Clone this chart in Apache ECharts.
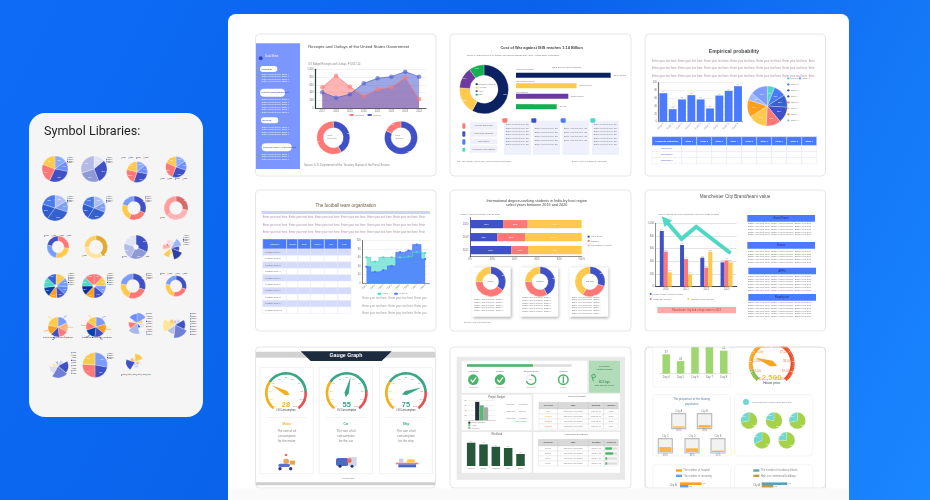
<!DOCTYPE html>
<html><head><meta charset="utf-8">
<style>html,body{margin:0;padding:0;background:#0f6ef5}#c{width:930px;height:500px;filter:blur(.55px)}</style>
<script src="https://cdn.jsdelivr.net/npm/echarts@6/dist/echarts.min.js"></script>
</head><body><div id="c"></div>
<script>
/* ---------- DATA ---------- */
const lib01=[15,13,29,24,19], lib02=[14,30,26,30], lib03=[14,14,27,24,21], lib04=[16,14,26,26,18];
const lib05=[16,14,30,20,20], lib06=[17,14,28,22,19], lib07=[32,25,23,20], lib08=[28,36,36];
const lib09=[27,26,25,22], lib10=[40,35,25], lib11=[32,26,22,20], lib12=[12,18,14,20,10,16,12,14,10,14];
const lib13=[14,12,11,12,11,13,14,13], lib14=[12,13,11,14,12,13,12,13], lib15=[30,26,22,22], lib16=[30,24,24,22];
const lib17=[18,15,15,14,16,22], lib18=[20,16,16,18,14,16], lib19=[24,14,18,12,26,20,12,22], lib20=[10,14,22,28,20,26,14,10];
const lib21=[8,16,26,30,22,14,10,12], lib22=[28,22,26,24], lib23=[22,12,10,16,8,24,14,10];

const receiptYears=['2017','2018','2019','2020','2021','2022','2023','2024'];
const receipts=[538,837,555,316,487,538,786,239];
const outlays=[410,273,359,641,769,812,940,812];
const donutReceipts=[42,58], donutOutlays=[82,18];

const warShare=[58,18,14,10];
const warLabels=['Operation Inherent','Air Force','Army','Navy'];
const warBarNames=['Overall spending','Overseas support','Operations','Other operations'];
const warBars=[114,73,63,49];
const warBarText=['$1.14 billion','$734 million','$632 million','$490m'];

const probLabels=['Stage 1','Stage 2','Stage 3','Stage 4','Stage 5','Stage 6','Stage 7','Stage 8','Stage 9'];
const probValues=[73,32,57,68,57,34,67,79,91];
const probShare=[6,10,10,13,12,15,14,6,14];
const probTableHead=['Probability Distribution','Stage 1','Stage 2','Stage 3','Stage 4','Stage 5','Stage 6','Stage 7','Stage 8','Stage 9'];
const probTableRows=['Population 1','Population 2','Population 3'];

const teamHead=['Category','Lands','Sold','Team','Win','Goal'];
const teamRows=['Football Club 1','Football Club 2','Football Club 3','Football Club 4','Football Club 5','Football Club 6','Football Club 7','Football Club 8','Football Club 9','Football Club 10'];
const teamX=['Club 1','Club 2','Club 3','Club 4','Club 5','Club 6','Club 7','Club 8'];
const teamA=[60,50,60,60,60,62,72,70];
const teamB=[38,26,30,40,72,76,90,56];

const studyYears=['2015','2018','2020'];
const studyNew=[37,24.5,29.6], studyPrivate=[15,25,22], studyPublic=[48,50.5,48.4];
const studyLegend=['New Delhi','Punjab','Karnataka / Kerala'];
const studyD1=[35,40,25], studyD2=[42,33,25], studyD3=[30,28,42];
const studyTotals=['3,804','31,569','52,069'];

const cityYears=['2020','2021','2022','2023'];
const cityBlue=[879,658,458,384], citySalmon=[553,437,300,416], cityYellow=[226,195,553,384];
const cityArrow=[[11.5,89],[32,47],[50,74],[92.6,15]];
const cityHeads=['Brand Power','Forces','APPG','Royalty rate'];

const gaugeNames=['Motor','Car','Ship'], gaugeVals=[28,55,75];

const budgetX=['Budget'], budgetA=[74], budgetB=[60], budgetC=[52];
const workNames=['Sprung','Danny','Nicholas','Peter','Simon'], workVals=[97,90,80,75,50];
const progressVal=[63];
const progressDev=[70,30], progressDone=[100];
const taskHead=['Overview','Task','Duration','Assignee'];
const deadlineHead=['Overview','Task','Duration','Progress'];
const taskPriority=['Today','Medium','Medium','Medium'];
const deadlineProgress=[55,65,15,15];

const dayX=['Day 4','Day 5','Day 6','Day 7','Day 8'], dayVals=[37,24,65,70,44];
const houseValue=[2500];
const floatCities=['City A','City B','City C','City D','City E'], floatVals=[10,20,40,30,11];
const incomePies=[[72,28],[78,22],[72,28],[68,32],[75,25]];
const hospital=[65], university=[25], ministry=[77], commercial=[35];

/* ---------- HELPERS ---------- */
const F='Liberation Sans';
const BLUE='#3f51c4',SAL='#ff7875',YEL='#ffc94d',LB='#7b9cff',TEAL='#4fd8c4',VIV='#4a7bff',ORG='#ff9f1c';
const g=[],series=[],grids=[],xA=[],yA=[];
let ox=0,oy=0;const at=(a,b)=>{ox=a;oy=b};
const X=z=>ox+z/3,Y=z=>oy+z/3;
function rect(x,y,w,h,fill,o={}){g.push({type:'rect',silent:true,z:o.z||0,shape:{x,y,width:w,height:h,r:o.r||0},
 style:{fill:fill||'transparent',stroke:o.stroke||'transparent',lineWidth:o.lw||0,shadowBlur:o.sb||0,shadowColor:o.sc||'transparent',shadowOffsetX:o.sx||0,shadowOffsetY:o.sy||0}})}
function text(x,y,s,size,color,align,weight,z){g.push({type:'text',silent:true,z:z||1,style:{text:s,x,y,fontSize:size,fontFamily:F,fontWeight:weight||'normal',fill:color||'#444',
 align:align||'left',textAlign:align||'left',verticalAlign:'middle',textVerticalAlign:'middle'}})}
const zr=(a,b,c,d,fill,o)=>rect(X(a),Y(b),(c-a)/3,(d-b)/3,fill,o);
const zt=(a,b,s,size,color,align,weight,z)=>text(X(a),Y(b),s,size,color,align,weight,z);
function zc(a,b,r,fill,z){g.push({type:'circle',silent:true,z:z||1,shape:{cx:X(a),cy:Y(b),r:r/3},style:{fill}})}
function zline(pts,color,w,z){g.push({type:'polyline',silent:true,z:z||1,shape:{points:pts.map(p=>[X(p[0]),Y(p[1])])},style:{stroke:color,lineWidth:w,fill:'transparent'}})}
const FILL='Enter your text here  Enter your text here  Enter your text here  Enter your text here  Enter your text here  Enter your text here  Enter your text here  ';
const filler=n=>FILL.slice(0,n);
function para(a,ys,n,size,color){ys.forEach(y=>zt(a,y,filler(n),size,color))}
function card(a,b,w,h){rect(a,b,w,h,'#fff',{r:4,stroke:'#dfdfdf',lw:.8})}
function pie(cx,cy,rin,rout,vals,colors,o={}){series.push({type:'pie',silent:true,animation:false,center:[cx,cy],radius:[rin,rout],startAngle:o.start==null?90:o.start,
 roseType:o.rose||false,clockwise:true,z:o.z||2,
 itemStyle:{borderColor:o.bc||'#fff',borderWidth:o.bw==null?.25:o.bw},
 label:o.label||{show:!!o.inner,position:'inside',fontSize:o.inner||2.4,color:'#fff',fontFamily:F,formatter:o.fmt||'{d}%'},
 labelLine:o.labelLine||{show:false},
 data:vals.map((v,i)=>({value:v,name:(o.names&&o.names[i])||('Stage '+(i+1)),itemStyle:{color:colors[i%colors.length]}}))})}
function addGrid(a,b,c,d,xa,ya){const i=grids.length;grids.push({left:X(a),top:Y(b),width:(c-a)/3,height:(d-b)/3,containLabel:false});
 xA.push(Object.assign({gridIndex:i},xa));yA.push(Object.assign({gridIndex:i},ya));return i}
const lab=(o={})=>Object.assign({fontSize:2.6,color:'#777',margin:1.6,fontFamily:F,interval:0},o);
const cat=(data,o={})=>Object.assign({type:'category',data,axisTick:{show:false},axisLine:{lineStyle:{color:'#888',width:.6}},axisLabel:lab(),splitLine:{show:false}},o);
const val=(min,max,interval,o={})=>Object.assign({type:'value',min,max,interval,axisTick:{show:false},axisLine:{show:false},axisLabel:lab(),splitLine:{show:true,lineStyle:{color:'#e4e4e4',width:.5}}},o);
const off={show:false};
function miniLeg(x,y,colors,horizontal,step){colors.forEach((c,i)=>{const dx=horizontal?i*(step||7.5):0,dy=horizontal?0:i*(step||1.7);
 rect(x+dx,y+dy-.5,1.1,1,c,{});text(x+dx+1.5,y+dy,horizontal?'Stage':'Stage '+(i+1),1.35,'#333')})}

/* ---------- PAGE FRAME ---------- */
rect(228,14,621,500,'#ffffff',{r:8});
rect(29,113,174,304,'#f5f5f5',{r:16});
text(44,131.5,'Symbol Libraries:',12.6,'#1f1f1f');
g[g.length-1].style.fontFamily='Roboto';

/* ---------- SYMBOL LIBRARY ---------- */
const P1=['#86aaff','#6f8cff',BLUE,SAL,YEL];
const P2=['#dfe3f5',BLUE,'#8f99d8','#b4bbe6'];
const P3=['#aebff7','#7f9ff2','#3560cf','#2f5bd0','#4a7bea'];
const P4=[BLUE,SAL,YEL,LB];
const P5=['#d96a6a','#ffb3b3','#ff9d9d'];
const P6=['#e0a92f','#ffe3a0','#ffd06a'];
const P7=[BLUE,'#8f99d8','#b4bbe6','#dfe3f5'];
const P8=['#dfe9ff','#9db6f5',BLUE,'#2f3f9e','#ffe49a',YEL,'#fff1c9','#ffb0ae',SAL,'#ffdad9'];
const P9=[YEL,LB,'#5d86ff',BLUE,ORG,'#0b3fa8',TEAL,'#3a62d8',SAL];
const P11=[LB,YEL,'#e0e5fa',BLUE,'#aab5ec',SAL,'#ffd7a0','#6f8cff'];
pie(55,169,0,13,lib01,P1,{inner:1.8});
pie(94,169,0,13,lib02,P2,{inner:1.8});
pie(137,172,0,10.5,lib03,P1,{inner:1.8});
pie(176,167,0,10.5,lib04,P1,{inner:1.8});
miniLeg(67,158,P1.slice(0,4));miniLeg(106,158,P2);miniLeg(121,158,P1.slice(0,4),true);miniLeg(160,179,P1.slice(0,4),true);
pie(55,208,0,13,lib05,P3,{inner:1.8});
pie(94,208,0,11.5,lib06,P3,{inner:1.8});
pie(134,208,6.5,12,lib07,P4,{inner:1.8});
pie(176,208,6.5,12,lib08,P5,{inner:1.8});
miniLeg(67,197,P3.slice(0,4));miniLeg(106,197,P3.slice(0,4));miniLeg(145,197,P4);miniLeg(160,218,P5,true,9);
pie(58,247,6,11,lib09,[SAL,YEL,LB,BLUE],{inner:1.6});
pie(96,247,7,11.5,lib10,P6,{inner:1.6});
pie(136,247,2.5,12,lib11,P7,{inner:1.8});
pie(171,248,0,12,lib12,P8,{rose:'radius'});
miniLeg(44,236,P4,true);miniLeg(82,256,P6,true,9);miniLeg(122,257,P7,true);miniLeg(183,236,P8.slice(0,6));
pie(56,286,1.5,12,lib13,P9,{inner:1.6});
pie(94,286,1.5,12,lib14,[SAL,YEL,LB,BLUE,ORG,'#0b2f9a',TEAL,SAL],{inner:1.6});
pie(133,286,6.5,12.5,lib15,[BLUE,SAL,YEL,LB],{inner:1.6});
pie(176,286,6,10.5,lib16,[BLUE,SAL,YEL,LB],{inner:1.6});
miniLeg(68,274,P9.slice(0,7));miniLeg(107,274,P9.slice(0,7));miniLeg(146,274,P4);miniLeg(160,274,P4,true);
const tipLabel={show:true,position:'outside',fontSize:1,color:'#888',formatter:' ',fontFamily:F};
const tipLine={show:true,length:3,length2:2,lineStyle:{width:.6}};
pie(58,327,0,10,lib17,[LB,'#ffb37a',SAL,BLUE,ORG,YEL],{label:tipLabel,labelLine:tipLine});
pie(96,327,0,10,lib18,[LB,ORG,BLUE,'#0b3fa8',SAL,YEL],{label:tipLabel,labelLine:tipLine});
pie(137,323,0,11,lib19,P11,{rose:'radius'});
pie(175,325,0,13,lib20,['#9db6f5','#cbd7fb',BLUE,'#6f7fd6','#b7c0ea','#ffe49a',YEL,'#ffb0ae'],{rose:'radius'});
miniLeg(43,337.5,[LB,ORG,BLUE,SAL,YEL,'#888'],true,5);miniLeg(82,337.5,[LB,ORG,BLUE,SAL,YEL,'#888'],true,5);
for(let i=0;i<9;i++){const h=(c,x,y)=>{rect(x,y,1.2,1.2,c);text(x+1.6,y+.6,'Stage '+(i+1),1.4,'#333')};h(P11[i%8],146,313+i*2.6);h('#6f7fd6',190,313+i*2.6);}
pie(58,366,0,12,lib21,['#ffb0ae','#cbd7fb',BLUE,'#6f7fd6','#d8ddf4','#ffe49a','#ffeec2','#9db6f5'],{rose:'radius'});
pie(95,365,0,12.5,lib22,[LB,BLUE,SAL,YEL],{inner:1.6});
pie(135,362,0,9,lib23,[YEL,'#ffd7a0',SAL,'#d8ddf4',TEAL,BLUE,'#ffb37a','#fff1c9'],{rose:'radius'});
miniLeg(107,354,P1.slice(0,4));
for(let i=0;i<9;i++){rect(71,352+i*2.6,1.2,1.2,P11[i%8]);text(72.6,352.6+i*2.6,'Stage',1.4,'#333')}
miniLeg(121,375,[BLUE,SAL,YEL,LB,ORG,TEAL],true,5);

/* ---------- CARD 1 ---------- */
card(255.5,34,180.5,142);
at(250,30);
zr(18,40,150,417,'#7b96ff');
zc(32,85,6,'#3148b8');zt(46,78,'Data Sheet',2.6,'#fff');
const pills=[[30,108,82,'What is it?'],[30,176,105,'Latest Financial Statement'],[33,262,85,'Services'],[35,340,125,'Real-time Survey of government']];
pills.forEach(p=>{zr(p[0],p[1],p[2],p[1]+(p[2]>100?24:18),'#fff',{r:4});zt(p[0]+4,p[1]+(p[2]>100?12:9),p[3],2.3,'#2d3a7a')});
[[132,4],[209,6],[291,4],[372,3]].forEach(a=>{for(let i=0;i<a[1];i++)zt(35,a[0]+i*7.5,filler(29),2.2,'#fff')});
zt(175,50,'Receipts and Outlays of the United States Government',4.15,'#444');
zt(175,103,'US Budget Receipts and Outlays, FY2017-24',2.6,'#888');
let gi=addGrid(196,118,528,235,cat(receiptYears,{axisLine:{lineStyle:{color:'#333',width:.8}}}),val(0,1000,200,{axisLine:{show:true,lineStyle:{color:'#1f3d2a',width:1.2}}}));
[[receipts,SAL],[outlays,'#4f5fcf']].forEach(s=>series.push({type:'line',xAxisIndex:gi,yAxisIndex:gi,data:s[0],animation:false,silent:true,symbol:'circle',symbolSize:4.5,
 lineStyle:{color:s[1],width:.7},itemStyle:{color:s[1],opacity:.65},areaStyle:{color:s[1],opacity:.55}}));
zr(298,252,312,258,SAL,{r:1});zt(315,255,'Receipts',2.4,'#888');zr(352,252,366,258,'#4f5fcf',{r:1});zt(369,255,'Outlays',2.4,'#888');
pie(X(250),Y(323),10,16.5,donutReceipts,[BLUE,SAL],{inner:2.2,fmt:'{d}%'});
pie(X(453),Y(323),10,16.5,donutOutlays,[BLUE,SAL],{inner:2.2,fmt:'{d}%'});
zt(232,316,'Total',2.4,'#888');zt(232,324,'Receipts',2.4,'#888');zt(435,316,'Total',2.4,'#888');zt(435,324,'Outlays',2.4,'#888');
zt(162,405,'Source: U.S. Department of the Treasury, Bureau of the Fiscal Service',2.75,'#888');

/* ---------- CARD 2 ---------- */
card(450,34,181,142);
at(445,30);
zt(290,53,'Cost of War against ISIS reaches 1.14 Billion',3.9,'#444','center','bold');
zt(65,75,'Figure 1: Total cost of U.S. military operations against ISIS, as of August 2015 (estimated)',2.35,'#777');
pie(X(117),Y(178),14,24.5,warShare,['#0b2161',YEL,'#6e3a9e','#12b050'],{inner:2,fmt:'{d}%'});
['#0b2161',YEL,'#6e3a9e','#12b050'].forEach((c,i)=>{zr(92,160+i*10.5,98,165+i*10.5,c);zt(100,162.5+i*10.5,warLabels[i],2.1,'#777')});
gi=addGrid(213,120,497,246,Object.assign(val(0,114,null),{show:false,splitLine:off}),cat(warBarNames,{show:false,inverse:true}));
series.push({type:'bar',xAxisIndex:gi,yAxisIndex:gi,barWidth:5,animation:false,silent:true,data:warBars.map((v,i)=>({value:v,itemStyle:{color:['#0b2161',YEL,'#6e3a9e','#12b050'][i]}})),
 label:{show:true,position:'right',distance:3,fontSize:2.3,color:'#777',formatter:p=>warBarText[p.dataIndex],fontFamily:F}});
zt(365,111,'Total Source of Expenditure',2.4,'#777','center');
warBarNames.forEach((n,i)=>zt(214,[118,153,187,222][i],n,2.3,'#777'));
[SAL,BLUE,VIV,TEAL].forEach((c,i)=>zr(52,[280,304,328,353][i],61,[296,320,344,365][i],c,{r:1}));
const warBox=['Overall Spending','Overseas Support','Operations','Personnel Operations'];
warBox.forEach((n,i)=>{const t=[276,302,326,346][i],b=[299,320,342,368][i];zr(75,t,157,b,'#eef0fb');zt(116,(t+b)/2,n,2.3,'#777','center')});
[177,264,352,441].forEach((a,i)=>{zr(a,272,a+81,375,'#eef0fb');zr(a-5,265,a+10,278,[SAL,BLUE,VIV,TEAL][i],{r:1});
 const n=[7,5,4,7][i];for(let k=0;k<n;k++)zt(a+5,284+k*(n>5?10:12)+(n>5?0:10),filler(24),2.2,'#777');});
zt(35,394,'U.S. and Ministry of Defense / Inherent Joint Commands',2.2,'#777');
zt(380,394,'Source: U.S. Department of Defense',2.2,'#777');

/* ---------- CARD 3 ---------- */
card(645,34,180.5,142);
at(640,30);
zt(282,65,'Empirical probability',5.1,'#4a4a4a','center','bold');
para(36,[93,116,139],136,2.8,'#a892a8');
gi=addGrid(56,158,308,275,cat(probLabels,{axisLine:{lineStyle:{color:'#999',width:.9}},axisLabel:lab({rotate:45,fontSize:2.4,color:'#999'})}),val(0,100,20,{axisLine:{show:true,lineStyle:{color:'#777',width:1.2}}}));
series.push({type:'bar',xAxisIndex:gi,yAxisIndex:gi,data:probValues,barWidth:'84%',animation:false,silent:true,itemStyle:{color:VIV},label:{show:true,position:'top',distance:.5,fontSize:2,color:'#999',fontFamily:F}});
const P3C=[TEAL,VIV,'#3a5fcf',BLUE,SAL,YEL,ORG,'#9dbbff','#7f9cff'];
pie(X(382),Y(228),0,20,probShare,P3C,{inner:2,fmt:'{d}%'});
probLabels.forEach((n,i)=>{const a=i==8?480:445,y=i==8?145:145+i*18;zc(a,y,3.5,P3C[i]);zt(a+8,y,n,2.2,'#888')});
const t3c=[36,125,170,215,260,305,350,395,440,485,530];
for(let i=0;i<10;i++)zr(t3c[i],320,t3c[i+1],347,VIV,{stroke:'#fff',lw:.3});
probTableHead.forEach((n,i)=>zt((t3c[i]+t3c[i+1])/2,333,n,2.1,'#fff','center','bold'));
probTableRows.forEach((n,r)=>{for(let i=0;i<10;i++)zr(t3c[i],347+r*18,t3c[i+1],365+r*18,'#fff',{stroke:'#dfe3fb',lw:.4});zt(80,356+r*18,n,2.1,'#3d56c8','center')});

/* ---------- CARD 4 ---------- */
card(255.5,190,180.5,141);
at(250,185);
zt(287,63,'The football team organization',4.5,'#6b5a3c','center');
zr(35,78,540,87,'#cdd4fb');
para(38,[97,120,142],136,2.8,'#a892a8');
const t4c=[38,110,143,182,223,263,303];
for(let i=0;i<6;i++){zr(t4c[i],162,t4c[i+1],192,VIV,{stroke:'#fff',lw:.4});zt((t4c[i]+t4c[i+1])/2,177,teamHead[i],2.4,'#fff','center')}
teamRows.forEach((n,r)=>{const t=192+r*19.3;for(let i=0;i<6;i++)zr(t4c[i],t,t4c[i+1],t+19.3,r%2?'#fff':'#d5dcfb',{stroke:'#e3e6fa',lw:.4});zt(45,t+9.6,n,2.3,'#777')});
gi=addGrid(337,166,538,294,cat(teamX,{axisLine:{lineStyle:{color:'#888',width:.9}},axisLabel:lab({rotate:45,fontSize:2.3})}),val(0,100,20,{axisLine:{show:true,lineStyle:{color:'#777',width:1}}}));
[[teamA,TEAL,.65],[teamB,VIV,.85]].forEach(s=>series.push({type:'line',xAxisIndex:gi,yAxisIndex:gi,data:s[0],step:'middle',animation:false,silent:true,symbol:'rect',symbolSize:2,
 lineStyle:{color:s[1],width:.7},itemStyle:{color:s[1]},areaStyle:{color:s[1],opacity:s[2]}}));
zr(382,323,394,329,TEAL,{r:1});zt(398,326,'Team A',2.3,'#888');zr(432,323,444,329,VIV,{r:1});zt(448,326,'Team B',2.3,'#888');
para(337,[341,364,386],53,2.8,'#999');

/* ---------- CARD 5 ---------- */
card(450,190,181,141);
at(445,185);
zt(275,47,'International degree-seeking students in India by host region',3.75,'#444','center');
zt(275,61,'select years between 2015 and 2020',3.75,'#444','center');
zt(45,87,'Figure 1: Student Mobility in 2015-2020',2.3,'#777');
gi=addGrid(75,98,410,215,val(0,100,20,{axisLabel:lab({formatter:'{value}%'}),axisLine:{show:true,lineStyle:{color:'#444',width:.6}},splitLine:off}),cat(studyYears,{axisLine:{lineStyle:{color:'#444',width:.8}}}));
[[studyNew,BLUE],[studyPrivate,SAL],[studyPublic,YEL]].forEach(s=>series.push({type:'bar',stack:'s',xAxisIndex:gi,yAxisIndex:gi,data:s[0],barWidth:8.2,animation:false,silent:true,itemStyle:{color:s[1]},
 label:{show:true,position:'inside',fontSize:2.3,color:'#fff',fontFamily:F,formatter:p=>Math.round(p.value)+'%'}}));
[BLUE,SAL,YEL].forEach((c,i)=>{zc(431,155+i*13,3.5,c);zt(438,155+i*13,studyLegend[i],2.5,'#777')});
[[80,197],[224,340],[373,490]].forEach(a=>zr(a[0],247,a[1],395,'#fff',{sb:3,sc:'rgba(0,0,0,.35)',sx:1,sy:1}));
[[137,studyD1],[285,studyD2],[435,studyD3]].forEach((d,i)=>{pie(X(d[0]),Y(290),8,15,d[1],[BLUE,SAL,YEL],{inner:1.9,fmt:'{d}%'});zt(d[0],290,studyTotals[i],2.5,'#555','center')});
[[88,344,5],[232,338,6],[380,336,7]].forEach(a=>{for(let k=0;k<a[2];k++)zt(a[0],a[1]+k*8,filler(29),2.35,'#777')});
zt(57,411,'Source: Open Doors Data',2.3,'#888');

/* ---------- CARD 6 ---------- */
card(645,190,180.5,141);
at(640,185);
zt(285,36,'Manchester City Brand/team value',4.6,'#555','center');
zt(55,89,'Figure: Squad value of Manchester City from 2020 to 2023',2.35,'#777');
gi=addGrid(47,115,290,305,cat(cityYears,{axisLine:{lineStyle:{color:'#444',width:1}}}),val(0,1000,200,{axisLine:{show:true,lineStyle:{color:'#444',width:.6}},splitLine:{lineStyle:{color:'#e3e3e3',width:1.2}}}));
[[cityBlue,BLUE],[citySalmon,SAL],[cityYellow,YEL]].forEach(s=>series.push({type:'bar',xAxisIndex:gi,yAxisIndex:gi,data:s[0],barWidth:4,barGap:'0%',animation:false,silent:true,itemStyle:{color:s[1]},
 label:{show:true,position:'top',distance:.5,fontSize:1.9,color:'#aaa',fontFamily:F}}));
gi=addGrid(47,90,290,225,{type:'value',min:0,max:100,show:false},{type:'value',min:0,max:100,show:false});
series.push({type:'line',xAxisIndex:gi,yAxisIndex:gi,z:5,animation:false,silent:true,lineStyle:{color:TEAL,width:4,join:'miter'},itemStyle:{color:TEAL},
 data:cityArrow.map((p,i)=>i==0?{value:p,symbol:'triangle',symbolSize:10,symbolRotate:41}:{value:p,symbol:'none'}),showSymbol:true});
zc(32,327,3,BLUE);zt(40,327,'Market value (in Euro million)',2.3,'#777');zc(32,342,3,SAL);zt(40,342,'Wage Bill (million)',2.3,'#777');zc(145,342,3,YEL);zt(153,342,'Transfer Fees (million)',2.3,'#777');
zr(52,366,288,385,'#ffaaa8');zt(170,375.5,'Manchester City had a huge value in 2023',2.6,'#b8403c','center');
[[322,90],[322,171],[325,248],[325,327]].forEach((a,i)=>{zr(a[0],a[1],a[0]+203,a[1]+20,VIV);zt(a[0]+101,a[1]+10,cityHeads[i],2.6,'#1b2f7a','center')});
[[116,5],[199,5],[274,6],[353,6]].forEach(a=>{for(let k=0;k<a[1];k++)zt(324,a[0]+k*8.2,filler(60),2.5,'#777')});

/* ---------- CARD 7 ---------- */
card(255.5,347,180,141);
at(250,342);
zr(18,29,555,47,'#d2d2d2');
g.push({type:'polygon',silent:true,z:1,shape:{points:[[X(152),Y(28)],[X(425),Y(28)],[X(395),Y(57)],[X(182),Y(57)]]},style:{fill:'#1d2b3e'}});
zt(288,41,'Gauge Graph',5.2,'#fff','center','bold',2);
[[30,190],[208,368],[388,547]].forEach(a=>zr(a[0],76,a[1],395,'#fff',{stroke:'#ececec',lw:.7}));
const GY='#f2b01e',GG='#3aa688',GR='#e8504f';
const gc=[108,290,468],gcol=[GY,GG,GG];
gaugeVals.forEach((v,i)=>{series.push({type:'gauge',silent:true,animation:false,center:[X(gc[i]),Y(153)],radius:21,startAngle:230,endAngle:-50,min:0,max:100,splitNumber:10,
 axisLine:{lineStyle:{width:2.6,color:[[.3,GY],[.8,GG],[1,GR]]}},
 axisTick:{splitNumber:5,distance:-2.6,length:1.6,lineStyle:{color:'auto',width:.4}},
 splitLine:{distance:-2.6,length:3,lineStyle:{color:'auto',width:.6}},
 axisLabel:{distance:3.5,fontSize:2.4,color:'auto',fontFamily:F},
 pointer:{length:'78%',width:2.2,itemStyle:{color:gcol[i]}},anchor:{show:false},
 title:{offsetCenter:[0,17],fontSize:2.6,color:'#444',fontFamily:F},
 detail:{offsetCenter:[0,12],fontSize:7.5,color:gcol[i],fontFamily:F,formatter:'{value}'},
 data:[{value:v,name:'Oil Consumption'}]});
 const a=[30,208,388][i]+20;zr(a,225.5,a+120,226.5,'#ccc');
 const cx=[110,288,468][i];
 zt(cx,246,gaugeNames[i],3,gcol[i],'center','bold');
 zt(cx,268,'The rate of oil',3.1,'#888','center');zt(cx,283,'consumption',3.1,'#888','center');zt(cx,298,'for the '+gaugeNames[i].toLowerCase(),3.1,'#888','center');
});
/* icons */
zr(85,365,120,375,'#5b6fd0',{r:2});zc(90,380,5,'#2c3a7a');zc(122,380,5,'#2c3a7a');zr(100,350,117,366,'#e9a35a',{r:2});zc(108,339,4,'#f06a5a');zr(120,356,135,368,'#e8a545');
zr(258,348,295,372,'#4f67c8',{r:2});zc(298,356,7,'#f06a5a');zr(295,345,320,372,'#cfd6f2');zc(270,373,4.5,'#253262');zc(306,373,4.5,'#253262');
zr(438,362,505,367,SAL);zr(445,367,498,376,'#4a66c8');zr(447,350,460,362,'#c9cfe8');zr(470,352,495,362,YEL,{r:2});
zt(295,411,'Company Name',1.8,'#777','center');
zr(18,421,555,430,'#cfcfcf');

/* ---------- CARD 8 ---------- */
card(450,347,181,141);
at(445,342);
zr(35,44,540,413,'#e9e9e9');
zr(50,56,427,152,'#fff');zr(432,56,525,152,'#b0dcb8');
zr(50,158,260,265,'#fff');zr(265,155,525,265,'#fff');zr(50,270,260,392,'#fff');zr(265,270,525,392,'#fff');
gi=addGrid(66,67,380,74,Object.assign(val(0,100,null),{show:false,splitLine:off}),cat(['Progress'],{show:false}));
series.push({type:'bar',xAxisIndex:gi,yAxisIndex:gi,data:progressVal,barWidth:'100%',animation:false,silent:true,itemStyle:{color:'#4cb46a'},showBackground:true,backgroundStyle:{color:'#dcdcdc'}});
const stepNames=['Planning','Design','Development','Testing'],stepX=[85,165,258,355];
stepNames.forEach((n,i)=>{zt(stepX[i],88,n,2.5,'#666','center');zt(stepX[i],136,i==3?'Testing':'Completed',1.9,'#999','center')});
pie(X(85),Y(113),0,5.3,progressDone,['#4cb46a'],{bw:0});pie(X(165),Y(113),0,5.3,progressDone,['#4cb46a'],{bw:0});
[[85],[165]].forEach(a=>zline([[a[0]-8,113],[a[0]-2,120],[a[0]+9,106]],'#fff',1.2,5));
pie(X(258),Y(113),4,5.5,progressDev,['#4cb46a','#e9edf9'],{bw:0});zt(258,113,'70%',2,'#4cb46a','center');
pie(X(355),Y(113),4,5.5,progressDone,['#4cb46a'],{bw:0});zr(353,103,357,124,'#4cb46a');
zt(478,73,'Projected',2.5,'#2f6f45','center');zt(478,81,'contract Risks',2.5,'#2f6f45','center');
zt(478,120,'SCS logic',2.6,'#2f6f45','center');zt(478,129,'Data and Risk review',2,'#2f6f45','center');
zline([[445,118],[440,100],[448,96],[452,105],[442,108]],'#3d9a5a',.8,2);
zt(155,165,'Project Budget',2.6,'#666','center');
gi=addGrid(70,175,150,235,cat(budgetX,{show:true,axisLabel:{show:false},axisLine:{lineStyle:{color:'#bbb',width:.5}}}),val(0,80,20,{axisLabel:lab({fontSize:2})}));
[[budgetA,'#222e3c'],[budgetB,'#5cb870'],[budgetC,'#aaaaaa']].forEach(s=>series.push({type:'bar',xAxisIndex:gi,yAxisIndex:gi,data:s[0],barWidth:4.2,barGap:'5%',animation:false,silent:true,itemStyle:{color:s[1]}}));
['Planning','Marketing','Consulting'].forEach((n,i)=>{const y=[187,208,228][i];zt(183,y,n,2.1,'#888');zt(222,y,['Complete','Started','Pending'][i],2.1,'#888')});
zt(228,238,'Over budget',2.1,'#ee6a5f','center');
[['#222e3c',242],['#5cb870',250],['#aaa',258]].forEach((a,i)=>{zr(70,a[1]-3,76,a[1]+3,a[0]);zt(79,a[1],['Budget allocated','Actual','Projected'][i],1.9,'#888')});
zt(395,162,'Overview Tasks',2.5,'#666','center');zt(395,278,'Upcoming Deadlines',2.5,'#666','center');
const t8c=[282,338,430,476,520],t8d=[280,338,430,478,520];
for(let i=0;i<4;i++){zr(t8c[i],181,t8c[i+1],201,'#d9d9d9',{stroke:'#bbb',lw:.3});zt((t8c[i]+t8c[i+1])/2,191,taskHead[i],2.1,'#555','center','bold')}
for(let r=0;r<4;r++){for(let i=0;i<4;i++)zr(t8c[i],201+r*15,t8c[i+1],216+r*15,'#fff',{stroke:'#ccc',lw:.3});
 zt(310,208.5+r*15,taskPriority[r],2,['#e9ac1f','#e9ac1f','#ee6a5f','#ee6a5f'][r],'center');zt(384,208.5+r*15,'Task scope and details',1.9,'#888','center');zt(453,208.5+r*15,'2023-08-08',1.9,'#888','center');zt(498,208.5+r*15,'Team',1.9,'#888','center')}
for(let i=0;i<4;i++){zr(t8d[i],292,t8d[i+1],312,'#d9d9d9',{stroke:'#bbb',lw:.3});zt((t8d[i]+t8d[i+1])/2,302,deadlineHead[i],2.1,'#555','center','bold')}
for(let r=0;r<4;r++){for(let i=0;i<4;i++)zr(t8d[i],312+r*15,t8d[i+1],327+r*15,'#fff',{stroke:'#ccc',lw:.3});
 zt(309,319.5+r*15,['Review','Survey','Buffer','Demo'][r],1.9,'#888','center');zt(384,319.5+r*15,'Task scope and details',1.9,'#888','center');zt(454,319.5+r*15,'2023-09-18',1.9,'#888','center')}
gi=addGrid(481,312,517,372,Object.assign(val(0,100,null),{show:false,splitLine:off}),cat(['a','b','c','d'],{show:false,inverse:true}));
series.push({type:'bar',xAxisIndex:gi,yAxisIndex:gi,data:deadlineProgress,barWidth:2.3,animation:false,silent:true,itemStyle:{color:'#4cb46a'},showBackground:true,backgroundStyle:{color:'#ddd'}});
zt(155,277,'Workload',2.6,'#666','center');
gi=addGrid(60,300,245,372,cat(workNames,{axisLine:{show:false},axisLabel:lab({fontSize:2})}),Object.assign(val(0,100,null),{show:false,splitLine:off}));
series.push({type:'bar',xAxisIndex:gi,yAxisIndex:gi,data:workVals,barWidth:8.5,animation:false,silent:true,itemStyle:{color:'#26573a'},
 label:{show:true,position:'top',distance:.5,fontSize:1.9,color:'#888',fontFamily:F}});

/* ---------- CARD 9 ---------- */
card(645,347,180.5,145);
at(640,342);
const panelLine={stroke:'#f0f0f0',lw:.7,r:3};
zr(38,-5,272,135,'#fff',panelLine);
zr(38,158,272,342,'#fff',panelLine);zr(284,158,518,342,'#fff',panelLine);
zr(38,368,272,470,'#fff',panelLine);zr(284,368,518,470,'#fff',panelLine);
gi=addGrid(57,15,273,95,cat(dayX,{axisLine:{lineStyle:{color:'#ccc',width:.5}},axisLabel:lab({fontSize:2.7})}),Object.assign(val(0,51,null),{show:false,splitLine:off}));
series.push({type:'bar',xAxisIndex:gi,yAxisIndex:gi,data:dayVals,barWidth:7.5,animation:false,silent:true,itemStyle:{color:'#9ed670'},label:{show:true,position:'top',distance:.5,fontSize:2.8,color:'#777',fontFamily:F}});
series.push({type:'gauge',silent:true,animation:false,center:[X(395),Y(65)],radius:23,startAngle:230,endAngle:-50,min:0,max:10000,splitNumber:10,
 axisLine:{lineStyle:{width:4,color:[[.12,'#8bbf4a'],[.5,'#f5a623'],[1,'#ee4a23']]}},
 axisTick:{splitNumber:5,distance:-4,length:2,lineStyle:{color:'#fff',width:.3}},
 splitLine:{distance:-4,length:3,lineStyle:{color:'#fff',width:.4}},
 axisLabel:{distance:4,fontSize:2.7,color:'#f2895c',fontFamily:F,formatter:v=>'$'+v.toLocaleString('en-US')},
 pointer:{length:'78%',width:3,itemStyle:{color:'#f5a623'}},anchor:{show:false},
 title:{offsetCenter:[0,19],fontSize:3.2,color:'#444',fontFamily:F},
 detail:{offsetCenter:[0,14.5],fontSize:8,color:'#f5c23d',fontFamily:F,formatter:v=>v.toLocaleString('en-US')},
 data:[{value:houseValue[0],name:'House price'}]});
zt(155,172,'The proportion of the floating',2.9,'#5b86b5','center');zt(155,186,'population',2.9,'#5b86b5','center');
const tank=[[95,215,137,260],[172,215,215,260],[55,290,97,333],[135,290,177,333],[213,290,255,333]];
tank.forEach((t,i)=>{zr(t[0],t[1],t[2],t[3],'#f2f2f2',{stroke:'#bdbdbd',lw:1.2});
 gi=addGrid(t[0]+3,t[1]+3,t[2]-3,t[3]-3,cat([floatCities[i]],{show:false}),Object.assign(val(0,100,null),{show:false,splitLine:off}));
 series.push({type:'bar',xAxisIndex:gi,yAxisIndex:gi,data:[floatVals[i]],barWidth:'100%',animation:false,silent:true,itemStyle:{color:'#ffb44d'}});
 zt((t[0]+t[2])/2,t[1]-6,floatCities[i],2.6,'#888','center');zt((t[0]+t[2])/2,t[3]+6,floatVals[i]+'%',2.6,'#888','center');});
zc(318,180,9,'#6fd8d0');zt(333,180,'Annual Income of more than $100,000',2.4,'#6a7aa0');
[[327,236],[402,236],[472,236],[366,295],[440,295]].forEach((c,i)=>{pie(X(c[0]),Y(c[1]),0,8.3,incomePies[i],['#a5d24a','#6fd8d0'],{inner:2.3,fmt:'{d}%',bw:.2,start:90})});
zr(108,382,126,389,ORG);zt(130,385.5,'The number of hospital',2.6,'#888');zr(108,398,126,405,'#5aa0f0');zt(130,401.5,'The number of university',2.6,'#888');
zr(340,382,358,389,'#5aa0b0');zt(362,385.5,'The number of residence blocks',2.6,'#888');zr(340,398,358,405,'#c09a3e');zt(362,401.5,'High rise commercial buildings',2.6,'#888');
zt(110,429,'City A',2.6,'#777','right');zt(360,429,'City A',2.6,'#777','right');
gi=addGrid(120,420,220,438,Object.assign(val(0,100,null),{show:false,splitLine:off}),cat(['City A'],{show:false}));
[[hospital,ORG],[university,'#5aa0f0']].forEach(s=>series.push({type:'bar',xAxisIndex:gi,yAxisIndex:gi,data:s[0],barWidth:2.6,barGap:'0%',animation:false,silent:true,itemStyle:{color:s[1]},label:{show:true,position:'right',distance:1,fontSize:2.4,color:'#888',fontFamily:F}}));
gi=addGrid(365,420,465,438,Object.assign(val(0,100,null),{show:false,splitLine:off}),cat(['City A'],{show:false}));
[[ministry,'#5aa0b0'],[commercial,'#c09a3e']].forEach(s=>series.push({type:'bar',xAxisIndex:gi,yAxisIndex:gi,data:s[0],barWidth:2.6,barGap:'0%',animation:false,silent:true,itemStyle:{color:s[1]},label:{show:true,position:'right',distance:1,fontSize:2.4,color:'#888',fontFamily:F}}));

/* ---------- CLIPPING COVERS ---------- */
rect(640,331.5,190,15,'#fff',{z:50});
rect(645,347,180.5,141,'transparent',{z:51,r:4,stroke:'#dfdfdf',lw:.8});
rect(228,488.5,621,12,'#fafafa',{z:52});

const chart=echarts.init(document.getElementById('c'),null,{renderer:'canvas'});
chart.setOption({animation:false,
 backgroundColor:{type:'linear',x:0,y:0,x2:1,y2:1,colorStops:[{offset:0,color:'#0d6cf6'},{offset:.45,color:'#0a62ea'},{offset:1,color:'#1a86ff'}]},
 tooltip:{show:false},legend:{show:false},graphic:{elements:g},grid:grids,xAxis:xA,yAxis:yA,series});
</script></body></html>
